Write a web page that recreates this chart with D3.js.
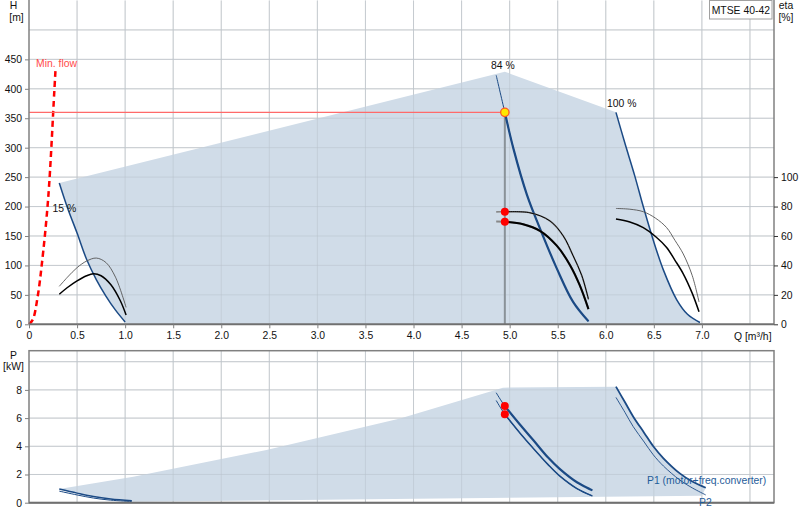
<!DOCTYPE html>
<html>
<head>
<meta charset="utf-8">
<script src="https://cdn.jsdelivr.net/npm/d3@7"></script>
<style>
  html, body { margin: 0; padding: 0; background: #fff; }
  svg text { font-family: "Liberation Sans", Arial, sans-serif; font-size: 10.4px; fill: #111; }
</style>
</head>
<body>
<svg id="chart" width="800" height="520"></svg>
<script>
// Axes ticks
const Q_TICKS = [0, 0.5, 1.0, 1.5, 2.0, 2.5, 3.0, 3.5, 4.0, 4.5, 5.0, 5.5, 6.0, 6.5, 7.0];
const Q_GRID = [0.5, 1.0, 1.5, 2.0, 2.5, 3.0, 3.5, 4.0, 4.5, 5.0, 5.5, 6.0, 6.5, 7.0, 7.5];
const H_TICKS = [0, 50, 100, 150, 200, 250, 300, 350, 400, 450];
const H_GRID = [50, 100, 150, 200, 250, 300, 350, 400, 450, 500];
const ETA_TICKS = [0, 20, 40, 60, 80, 100];
const P_TICKS = [0, 2, 4, 6, 8];
const P_GRID = [2, 4, 6, 8, 10];

// Operating point (Q m3/h, H m)
const OP_Q = 4.95;
const OP_H = 360;
const OP_ETA = [76.4, 69.7];
const OP_P = [6.85, 6.27];

// Head curves [Q, H]
const H15 = [[0.315, 240], [0.4, 198], [0.5, 155], [0.6, 110], [0.7, 76], [0.8, 48], [0.9, 24], [1.0, 4]];
const H84 = [[4.86, 423], [4.95, 360], [5.04, 298], [5.18, 220], [5.315, 163], [5.49, 95], [5.66, 38], [5.82, 5]];
const H100 = [[6.106, 360], [6.2, 307], [6.3, 253], [6.39, 200], [6.49, 145], [6.6, 92], [6.737, 42], [6.85, 17], [6.98, 3]];
const H_TOP = [[0.315, 240], [4.95, 429], [6.106, 360]];
const MIN_FLOW = [[0, 0], [0.04, 8], [0.09, 47], [0.132, 100], [0.2, 215], [0.263, 395], [0.275, 430]];

// Efficiency curves [Q, eta %]
const E15_PUMP = [[0.315, 25.8], [0.4, 32], [0.5, 38.5], [0.6, 43], [0.7, 45], [0.8, 42], [0.9, 32], [1.01, 11.5]];
const E15_TOT = [[0.315, 20.4], [0.4, 25], [0.5, 29.5], [0.6, 33], [0.67, 34.3], [0.75, 33], [0.85, 27], [0.95, 16], [1.01, 6.3]];
const E84_PUMP = [[4.86, 76.4], [4.95, 76.4], [5.21, 75.8], [5.42, 70.2], [5.558, 60], [5.66, 46.6], [5.75, 33.2], [5.82, 17]];
const E84_TOT = [[4.86, 69.9], [4.95, 69.7], [5.14, 68], [5.315, 63.5], [5.49, 53.4], [5.63, 40], [5.73, 26.4], [5.82, 10.3]];
const E100_PUMP = [[6.106, 78.7], [6.25, 78.2], [6.39, 76.5], [6.52, 72], [6.633, 65.7], [6.72, 57], [6.806, 47.8], [6.9, 33], [6.97, 15.2]];
const E100_TOT = [[6.106, 71.5], [6.25, 69.5], [6.39, 65.7], [6.52, 59.5], [6.633, 52.2], [6.72, 43.5], [6.806, 34.3], [6.9, 21], [6.97, 8.5]];

// Power curves [Q, P kW]
const P15_P1 = [[0.315, 0.97], [0.5, 0.68], [0.67, 0.44], [0.85, 0.27], [1.07, 0.14]];
const P15_P2 = [[0.315, 0.82], [0.5, 0.55], [0.67, 0.33], [0.85, 0.18], [1.07, 0.08]];
const P84_P1 = [[4.86, 7.8], [4.95, 6.85], [5.1, 5.6], [5.245, 4.45], [5.4, 3.2], [5.52, 2.4], [5.7, 1.45], [5.86, 0.88]];
const P84_P2 = [[4.86, 7.25], [4.95, 6.27], [5.1, 5.0], [5.245, 3.86], [5.4, 2.7], [5.52, 1.9], [5.7, 1.0], [5.86, 0.48]];
const P100_P1 = [[6.106, 8.23], [6.2, 7.12], [6.286, 6.1], [6.4, 4.95], [6.494, 4.0], [6.6, 3.15], [6.77, 2.08], [6.9, 1.5], [7.04, 1.06]];
const P100_P2 = [[6.106, 7.47], [6.2, 6.4], [6.286, 5.39], [6.4, 4.3], [6.494, 3.4], [6.6, 2.6], [6.77, 1.61], [6.9, 1.05], [7.04, 0.55]];
const P_TOP = [[0.315, 0.97], [1.085, 1.84], [2.47, 3.74], [3.86, 5.98], [4.93, 8.16], [6.106, 8.23]];
const P_BOTTOM = [[7.0, 0.5], [1.07, 0.07]];

const BLUE = '#1b4a85';
const FILL = '#d0dce8';
const GRID = '#d6d6d6';
const AXIS = '#808080';

const svg = d3.select('#chart');

const x = d3.scaleLinear().domain([0, 7.75]).range([29, 774]);
const yH = d3.scaleLinear().domain([0, 550]).range([324.3, 0.5]);
const yEta = d3.scaleLinear().domain([0, 220]).range([324.3, 0.5]);
const yP = d3.scaleLinear().domain([0, 10.78]).range([502.7, 350.7]);

const smooth = d3.curveCatmullRom.alpha(0.5);
const lineH = d3.line().x((d) => x(d[0])).y((d) => yH(d[1])).curve(smooth);
const lineEta = d3.line().x((d) => x(d[0])).y((d) => yEta(d[1])).curve(smooth);
const lineP = d3.line().x((d) => x(d[0])).y((d) => yP(d[1])).curve(smooth);

function curve(g, gen, data, color, width, dash) {
  g.append('path')
    .attr('d', gen(data))
    .attr('fill', 'none')
    .attr('stroke', color)
    .attr('stroke-width', width)
    .attr('stroke-dasharray', dash ?? null)
    .attr('stroke-linejoin', 'round');
}

function polygon(g, pts, yScale) {
  g.append('path')
    .attr('d', d3.line().x((d) => x(d[0])).y((d) => yScale(d[1]))(pts) + 'Z')
    .attr('fill', FILL)
    .attr('stroke', 'none');
}

function grid(g, yScale, yTop, yValues, color, opacity) {
  g.append('g').selectAll('line').data(Q_GRID).enter().append('line')
    .attr('x1', (d) => x(d)).attr('x2', (d) => x(d))
    .attr('y1', yScale(yTop)).attr('y2', yScale(0))
    .attr('stroke', color).attr('stroke-opacity', opacity).attr('stroke-width', 1);
  g.append('g').selectAll('line').data(yValues).enter().append('line')
    .attr('x1', x(0)).attr('x2', x(7.75))
    .attr('y1', (d) => yScale(d)).attr('y2', (d) => yScale(d))
    .attr('stroke', color).attr('stroke-opacity', opacity).attr('stroke-width', 1);
}

function cleanAxis(ax, tickColor) {
  ax.select('.domain').remove();
  ax.selectAll('line').attr('stroke', tickColor);
  ax.selectAll('text').attr('font-size', null).attr('font-family', null);
}

const after = (arr) => arr.filter((d) => d[0] >= OP_Q);

// ---------- top panel: H / eta ----------
const gTop = svg.append('g');

grid(gTop, yH, 550, H_GRID, GRID, 1);

// operating range area
const areaH = [...H_TOP, ...H100.slice(1), [7.0, 0], [1.0, 0], ...H15.slice().reverse()];
polygon(gTop, areaH, yH);
grid(gTop, yH, 550, H_GRID, '#b8c2cc', 0.5);

// min flow
curve(gTop, lineH, MIN_FLOW, '#ff0000', 2.5, '6,4');

// duty lines
gTop.append('line')
  .attr('x1', x(0)).attr('x2', x(OP_Q))
  .attr('y1', yH(OP_H)).attr('y2', yH(OP_H))
  .attr('stroke', '#ff6a6a').attr('stroke-width', 1.1);
gTop.append('line')
  .attr('x1', x(OP_Q)).attr('x2', x(OP_Q))
  .attr('y1', yH(OP_H)).attr('y2', yH(0))
  .attr('stroke', '#8a9298').attr('stroke-width', 2);

// head curves
curve(gTop, lineH, H15, BLUE, 1.5);
curve(gTop, lineH, H84, BLUE, 1);
curve(gTop, lineH, after(H84), BLUE, 2.2);
curve(gTop, lineH, H100, BLUE, 1.5);

// efficiency curves
curve(gTop, lineEta, E15_PUMP, '#555', 0.9);
curve(gTop, lineEta, E15_TOT, '#000', 1.5);
curve(gTop, lineEta, E84_PUMP, '#888', 1.6);
curve(gTop, lineEta, after(E84_PUMP), '#000', 1);
curve(gTop, lineEta, E84_TOT, '#888', 2);
curve(gTop, lineEta, after(E84_TOT), '#000', 2);
curve(gTop, lineEta, E100_PUMP, '#555', 0.9);
curve(gTop, lineEta, E100_TOT, '#000', 1.5);

// points
gTop.selectAll('.eta-dot').data(OP_ETA).enter().append('circle')
  .attr('class', 'eta-dot')
  .attr('cx', x(OP_Q)).attr('cy', (d) => yEta(d)).attr('r', 4)
  .attr('fill', '#ff0000');
gTop.append('circle')
  .attr('cx', x(OP_Q)).attr('cy', yH(OP_H)).attr('r', 4.2)
  .attr('fill', '#ffe800').attr('stroke', '#ff5a1f').attr('stroke-width', 1.3);

// axes
gTop.append('line').attr('x1', x(0)).attr('x2', x(0)).attr('y1', 0).attr('y2', yH(0))
  .attr('stroke', AXIS).attr('stroke-width', 1.5);
gTop.append('line').attr('x1', x(7.75)).attr('x2', x(7.75)).attr('y1', 0).attr('y2', yH(0))
  .attr('stroke', AXIS).attr('stroke-width', 1.5);
gTop.append('line').attr('x1', x(0)).attr('x2', x(7.75)).attr('y1', yH(0)).attr('y2', yH(0))
  .attr('stroke', '#707070').attr('stroke-width', 2);

const xAxis = gTop.append('g').attr('transform', `translate(0,${yH(0)})`)
  .call(d3.axisBottom(x).tickValues(Q_TICKS).tickSize(4).tickPadding(3)
    .tickFormat((d) => (d === 0 ? '0' : d.toFixed(1))));
cleanAxis(xAxis, AXIS);

const yAxisH = gTop.append('g').attr('transform', `translate(${x(0)},0)`)
  .call(d3.axisLeft(yH).tickValues(H_TICKS).tickSize(4).tickPadding(3));
cleanAxis(yAxisH, AXIS);

const yAxisEta = gTop.append('g').attr('transform', `translate(${x(7.75)},0)`)
  .call(d3.axisRight(yEta).tickValues(ETA_TICKS).tickSize(4).tickPadding(3));
cleanAxis(yAxisEta, '#333');

// labels
gTop.append('text').attr('x', 13.5).attr('y', 9).attr('text-anchor', 'middle').text('H');
gTop.append('text').attr('x', 16.5).attr('y', 21).attr('text-anchor', 'middle').text('[m]');
gTop.append('text').attr('x', 786).attr('y', 9).attr('text-anchor', 'middle').text('eta');
gTop.append('text').attr('x', 786).attr('y', 21).attr('text-anchor', 'middle').text('[%]');
gTop.append('text').attr('x', 734).attr('y', 340).text('Q [m³/h]');
gTop.append('text').attr('x', 36).attr('y', 67).style('fill', '#ff4a4a').text('Min. flow');
gTop.append('text').attr('x', 52.5).attr('y', 212).text('15 %');
gTop.append('text').attr('x', 491).attr('y', 69).text('84 %');
gTop.append('text').attr('x', 607).attr('y', 107).text('100 %');

gTop.append('rect').attr('x', 709.5).attr('y', 0.5).attr('width', 62.5).attr('height', 18.5)
  .attr('fill', '#fff').attr('stroke', '#a0a0a0');
gTop.append('text').attr('x', 740.8).attr('y', 13.5).attr('text-anchor', 'middle').text('MTSE 40-42');

// ---------- bottom panel: P ----------
const gBot = svg.append('g');

grid(gBot, yP, 10.78, P_GRID, GRID, 1);

const areaP = [...P_TOP, ...P100_P1.slice(1), ...P_BOTTOM, ...P15_P1.slice().reverse()];
polygon(gBot, areaP, yP);
grid(gBot, yP, 10.78, P_GRID, '#b8c2cc', 0.5);

curve(gBot, lineP, P15_P1, BLUE, 1.5);
curve(gBot, lineP, P15_P2, BLUE, 1);
curve(gBot, lineP, P84_P1, BLUE, 1);
curve(gBot, lineP, after(P84_P1), BLUE, 2.2);
curve(gBot, lineP, P84_P2, BLUE, 1);
curve(gBot, lineP, after(P84_P2), BLUE, 1.5);
curve(gBot, lineP, P100_P1, BLUE, 1.8);
curve(gBot, lineP, P100_P2, BLUE, 0.9);

gBot.selectAll('.p-dot').data(OP_P).enter().append('circle')
  .attr('class', 'p-dot')
  .attr('cx', x(OP_Q)).attr('cy', (d) => yP(d)).attr('r', 4)
  .attr('fill', '#ff0000');

gBot.append('rect')
  .attr('x', x(0)).attr('y', yP(10.78))
  .attr('width', x(7.75) - x(0)).attr('height', yP(0) - yP(10.78))
  .attr('fill', 'none').attr('stroke', AXIS).attr('stroke-width', 1.5);
gBot.append('line').attr('x1', x(0)).attr('x2', x(7.75)).attr('y1', yP(0)).attr('y2', yP(0))
  .attr('stroke', '#707070').attr('stroke-width', 2);

const yAxisP = gBot.append('g').attr('transform', `translate(${x(0)},0)`)
  .call(d3.axisLeft(yP).tickValues(P_TICKS).tickSize(4).tickPadding(3));
cleanAxis(yAxisP, AXIS);

gBot.append('text').attr('x', 13.5).attr('y', 359).attr('text-anchor', 'middle').text('P');
gBot.append('text').attr('x', 13.5).attr('y', 370).attr('text-anchor', 'middle').text('[kW]');
gBot.append('text').attr('x', 647).attr('y', 484).style('fill', '#1f5c99').text('P1 (motor+freq.converter)');
gBot.append('text').attr('x', 699).attr('y', 506).style('fill', '#1f5c99').text('P2');
</script>
</body>
</html>
